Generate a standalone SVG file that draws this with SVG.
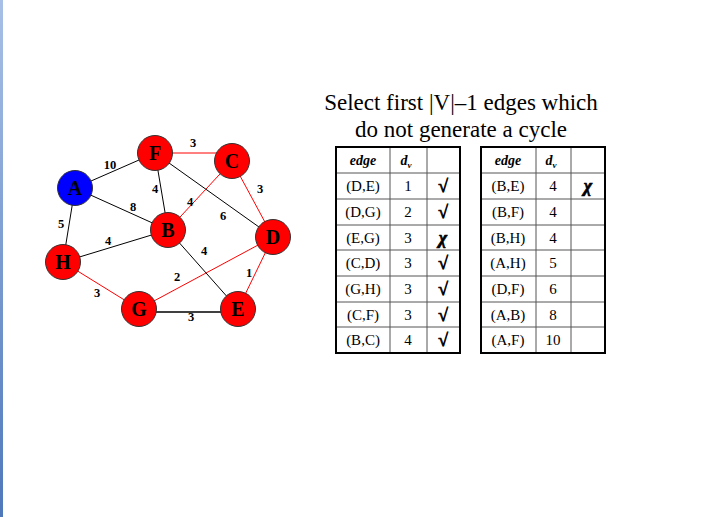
<svg xmlns="http://www.w3.org/2000/svg" width="702" height="517" viewBox="0 0 702 517">
<defs>
<linearGradient id="strip" x1="0" y1="0" x2="0" y2="1">
<stop offset="0" stop-color="#a8c0e6"/>
<stop offset="1" stop-color="#4f78bb"/>
</linearGradient>
</defs>
<style>
.e{stroke:#000;stroke-width:1;fill:none}
.r{stroke:#ff0000;stroke-width:1;fill:none}
.n{stroke:#333;stroke-width:1}
.red{fill:#ff0000}
.blue{fill:#0000ff}
.nl{font-family:"Liberation Serif",serif;font-weight:bold;font-size:20px;text-anchor:middle;fill:#000}
.w{font-family:"Liberation Serif",serif;font-weight:bold;font-size:12.5px;text-anchor:middle;fill:#000}
.t{font-family:"Liberation Serif",serif;font-size:23px;text-anchor:middle;fill:#000}
.c{font-family:"Liberation Serif",serif;font-size:15px;text-anchor:middle;fill:#000}
.h{font-family:"Liberation Serif",serif;font-size:14px;font-weight:bold;font-style:italic;text-anchor:middle;fill:#000}
.s{font-family:"Liberation Serif",serif;font-size:18px;font-weight:bold;font-style:italic;text-anchor:middle;fill:#000;stroke:#000;stroke-width:0.7}
.ob{fill:none;stroke:#000;stroke-width:2}
.il{stroke:#555;stroke-width:1}
</style>
<rect x="0" y="0" width="702" height="517" fill="#fff"/>
<rect x="0" y="0" width="3" height="517" fill="url(#strip)"/>
<g id="connectors">
<line class="e" x1="75" y1="188" x2="155" y2="153"/>
<line class="e" x1="75" y1="188" x2="168" y2="230"/>
<line class="e" x1="75" y1="188" x2="63" y2="262"/>
<line class="e" x1="155" y1="153" x2="168" y2="230"/>
<line class="e" x1="155" y1="153" x2="273" y2="237"/>
<line class="r" x1="155" y1="153" x2="232" y2="153"/>
<line class="r" x1="232" y1="161" x2="168" y2="230"/>
<line class="r" x1="232" y1="161" x2="273" y2="237"/>
<line class="e" x1="63" y1="262" x2="168" y2="230"/>
<line class="r" x1="63" y1="262" x2="139" y2="309"/>
<line class="r" x1="139" y1="309" x2="273" y2="237"/>
<line class="e" x1="168" y1="230" x2="238" y2="309"/>
<line class="r" x1="273" y1="237" x2="238" y2="309"/>
<line class="e" style="stroke-width:1.6" x1="139" y1="312" x2="238" y2="312"/>
</g>
<g id="weights">
<text class="w" x="110" y="169">10</text>
<text class="w" x="155" y="193">4</text>
<text class="w" x="133" y="211">8</text>
<text class="w" x="193" y="147">3</text>
<text class="w" x="190" y="206">4</text>
<text class="w" x="223" y="220">6</text>
<text class="w" x="260" y="193">3</text>
<text class="w" x="61" y="228">5</text>
<text class="w" x="108" y="245">4</text>
<text class="w" x="204" y="255">4</text>
<text class="w" x="177" y="281">2</text>
<text class="w" x="249" y="277">1</text>
<text class="w" x="97" y="297">3</text>
<text class="w" x="191" y="321">3</text>
</g>
<g id="node-A"><circle class="n blue" cx="75" cy="188" r="17.5"/><text class="nl" x="75" y="195">A</text></g>
<g id="node-F"><circle class="n red" cx="155" cy="153" r="17.5"/><text class="nl" x="155" y="160">F</text></g>
<g id="node-C"><circle class="n red" cx="232" cy="161" r="17.5"/><text class="nl" x="232" y="168">C</text></g>
<g id="node-B"><circle class="n red" cx="168" cy="230" r="17.5"/><text class="nl" x="168" y="237">B</text></g>
<g id="node-D"><circle class="n red" cx="273" cy="237" r="17.5"/><text class="nl" x="273" y="244">D</text></g>
<g id="node-H"><circle class="n red" cx="63" cy="262" r="17.5"/><text class="nl" x="63" y="269">H</text></g>
<g id="node-G"><circle class="n red" cx="139" cy="309" r="17.5"/><text class="nl" x="139" y="316">G</text></g>
<g id="node-E"><circle class="n red" cx="238" cy="309" r="17.5"/><text class="nl" x="238" y="316">E</text></g>
<g id="title">
<text class="t" x="461" y="110">Select first |V|–1 edges which</text>
<text class="t" x="461" y="137">do not generate a cycle</text>
</g>
<g id="table1">
<line class="il" x1="336" y1="173" x2="460" y2="173"/>
<line class="il" x1="336" y1="199" x2="460" y2="199"/>
<line class="il" x1="336" y1="225" x2="460" y2="225"/>
<line class="il" x1="336" y1="250" x2="460" y2="250"/>
<line class="il" x1="336" y1="276" x2="460" y2="276"/>
<line class="il" x1="336" y1="302" x2="460" y2="302"/>
<line class="il" x1="336" y1="327" x2="460" y2="327"/>
<line class="il" x1="390" y1="147" x2="390" y2="353"/>
<line class="il" x1="427" y1="147" x2="427" y2="353"/>
<rect class="ob" x="336" y="147" width="124" height="206"/>
<text class="h" x="363" y="165">edge</text>
<text class="h" x="406" y="165">d<tspan font-size="9" dy="3">v</tspan></text>
<text class="c" x="363" y="191">(D,E)</text><text class="c" x="408" y="191">1</text><text class="s" x="443" y="192">√</text>
<text class="c" x="363" y="217">(D,G)</text><text class="c" x="408" y="217">2</text><text class="s" x="443" y="218">√</text>
<text class="c" x="363" y="243">(E,G)</text><text class="c" x="408" y="243">3</text><text class="s" x="443" y="244">χ</text>
<text class="c" x="363" y="268">(C,D)</text><text class="c" x="408" y="268">3</text><text class="s" x="443" y="269">√</text>
<text class="c" x="363" y="294">(G,H)</text><text class="c" x="408" y="294">3</text><text class="s" x="443" y="295">√</text>
<text class="c" x="363" y="320">(C,F)</text><text class="c" x="408" y="320">3</text><text class="s" x="443" y="321">√</text>
<text class="c" x="363" y="345">(B,C)</text><text class="c" x="408" y="345">4</text><text class="s" x="443" y="346">√</text>
</g>
<g id="table2">
<line class="il" x1="481" y1="173" x2="605" y2="173"/>
<line class="il" x1="481" y1="199" x2="605" y2="199"/>
<line class="il" x1="481" y1="225" x2="605" y2="225"/>
<line class="il" x1="481" y1="250" x2="605" y2="250"/>
<line class="il" x1="481" y1="276" x2="605" y2="276"/>
<line class="il" x1="481" y1="302" x2="605" y2="302"/>
<line class="il" x1="481" y1="327" x2="605" y2="327"/>
<line class="il" x1="536" y1="147" x2="536" y2="353"/>
<line class="il" x1="571" y1="147" x2="571" y2="353"/>
<rect class="ob" x="481" y="147" width="124" height="206"/>
<text class="h" x="508" y="165">edge</text>
<text class="h" x="551" y="165">d<tspan font-size="9" dy="3">v</tspan></text>
<text class="c" x="508" y="191">(B,E)</text><text class="c" x="553" y="191">4</text><text class="s" x="588" y="192">χ</text>
<text class="c" x="508" y="217">(B,F)</text><text class="c" x="553" y="217">4</text>
<text class="c" x="508" y="243">(B,H)</text><text class="c" x="553" y="243">4</text>
<text class="c" x="508" y="268">(A,H)</text><text class="c" x="553" y="268">5</text>
<text class="c" x="508" y="294">(D,F)</text><text class="c" x="553" y="294">6</text>
<text class="c" x="508" y="320">(A,B)</text><text class="c" x="553" y="320">8</text>
<text class="c" x="508" y="345">(A,F)</text><text class="c" x="553" y="345">10</text>
</g>
</svg>
